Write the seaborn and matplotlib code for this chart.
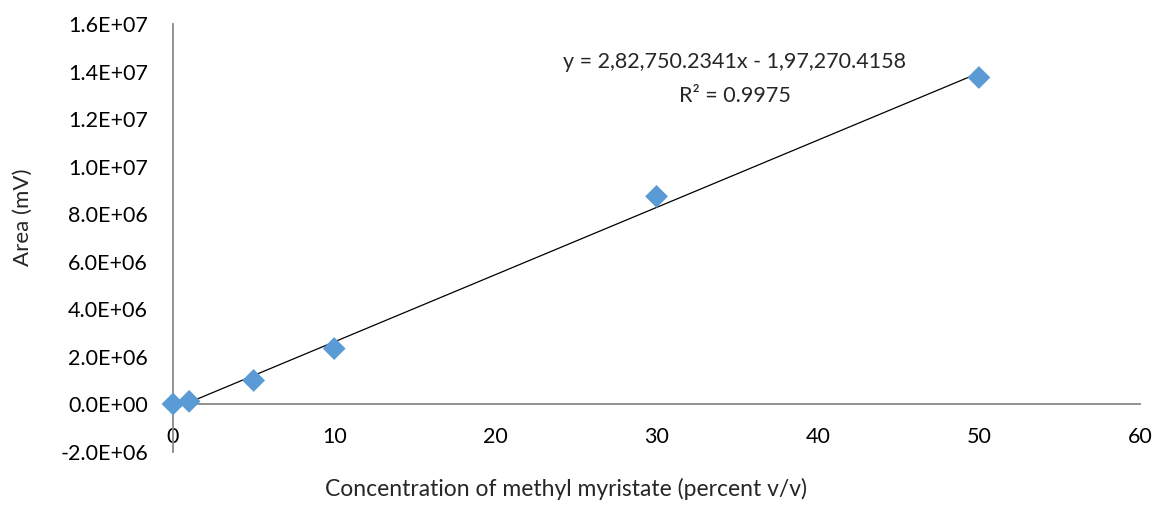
import matplotlib
matplotlib.use("Agg")
import matplotlib.pyplot as plt
from matplotlib.ticker import FuncFormatter, MultipleLocator
import numpy as np
import pandas as pd
import seaborn as sns

# Calibration standards: concentration (% v/v) vs. peak area (mV)
concentration = [0, 1, 5, 10, 30, 50]
area = [0.02e6, 0.13e6, 1.01e6, 2.35e6, 8.75e6, 13.75e6]

# Linear trendline coefficients
slope = 282750.2341
intercept = -197270.4158
r_squared = 0.9975

equation_text = "y = 2,82,750.2341x - 1,97,270.4158"
r2_text = "R² = 0.9975"

sns.set_theme(style="white")
plt.rcParams["font.family"] = ["Lato", "DejaVu Sans"]
FS = 15.5

df = pd.DataFrame({"conc": concentration, "area": area})
x_fit = np.array([min(concentration), max(concentration)])
fit_df = pd.DataFrame({"conc": x_fit, "area": slope * x_fit + intercept})

fig = plt.figure(figsize=(11.58, 5.16), dpi=100)
ax = fig.add_axes([0.1494, 0.124, 0.8351, 0.8295])

sns.lineplot(data=fit_df, x="conc", y="area", color="black", linewidth=0.9, ax=ax)
sns.scatterplot(data=df, x="conc", y="area", marker="D", s=135, color="#5B9BD5",
                edgecolor="none", ax=ax, zorder=3, clip_on=False)

ax.set_xlim(0, 60)
ax.set_ylim(-2.0e6, 1.6e7)
ax.xaxis.set_major_locator(MultipleLocator(10))
ax.yaxis.set_major_locator(MultipleLocator(2.0e6))
ax.yaxis.set_major_formatter(FuncFormatter(lambda v, p: f"{v:.1E}"))

for side in ("top", "right"):
    ax.spines[side].set_visible(False)
for side in ("left", "bottom"):
    ax.spines[side].set_color("#898989")
    ax.spines[side].set_linewidth(1.3)
ax.spines["bottom"].set_position(("data", 0))

ax.tick_params(axis="both", which="major", direction="out", length=6, width=1.1,
               color="#898989", labelsize=FS, labelcolor="black")
ax.tick_params(axis="x", pad=10)
ax.tick_params(axis="y", pad=12)

ax.set_xlabel("Concentration of methyl myristate (percent v/v)", fontsize=16.5)
ax.set_ylabel("Area (mV)", fontsize=16)
ax.xaxis.set_label_coords(0.406, -0.06)
ax.yaxis.set_label_coords(-0.145, 0.549)

ax.text(0.581, 0.911, equation_text, transform=ax.transAxes, ha="center",
        va="center", fontsize=FS)
ax.text(0.581, 0.832, r2_text, transform=ax.transAxes, ha="center",
        va="center", fontsize=FS)

fig.savefig("out.png", dpi=100)
